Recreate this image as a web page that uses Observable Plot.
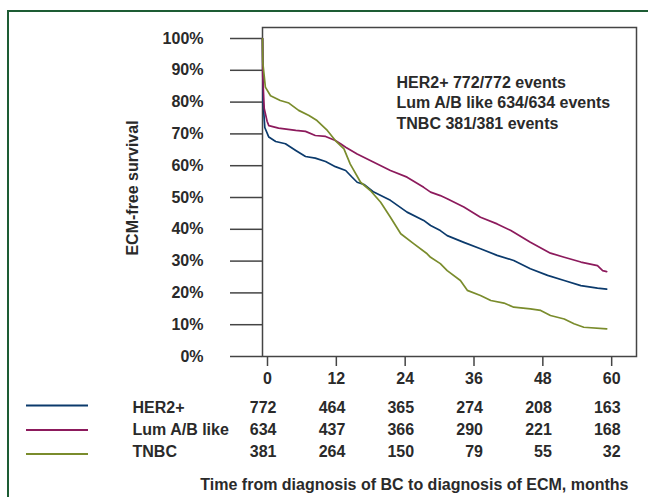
<!DOCTYPE html>
<html>
<head>
<meta charset="utf-8">
<script src="https://cdn.jsdelivr.net/npm/d3@7"></script>
<script src="https://cdn.jsdelivr.net/npm/@observablehq/plot@0.6"></script>
<style>
  html, body { margin: 0; padding: 0; background: #fff; }
  #wrap { position: relative; width: 648px; height: 497px; overflow: hidden; background: #fff; }
  #border { position: absolute; left: 7px; top: 10px; width: 800px; height: 700px; border-left: 2.5px solid #1d5c34; border-top: 2.5px solid #1d5c34; }
  #chart { position: absolute; left: 0; top: 0; }
</style>
</head>
<body>
<div id="wrap"><div id="border"></div><div id="chart"></div></div>
<script>
// ---- data ----
const groups = ["HER2+", "Lum A/B like", "TNBC"];
const colors = ["#0b3a6c", "#8c1a5c", "#7a8c2c"];

const her2Months = [0, 0.1, 0.4, 1.1, 2.3, 4.0, 5.8, 7.5, 9.2, 11.0, 12.7, 14.5, 15.5, 16.5, 17.7, 19.4, 22.3, 25.2, 28.1, 29.3, 31.0, 32.2, 35.1, 38.0, 40.9, 43.8, 46.7, 49.7, 52.6, 55.5, 58.4, 60.0];
const her2Surv   = [100, 80, 72, 69, 67.6, 66.9, 64.8, 62.9, 62.4, 61.3, 59.7, 58.5, 56.6, 54.8, 54.1, 51.7, 49.1, 45.4, 42.8, 41.2, 39.6, 38.0, 35.9, 33.9, 31.8, 30.2, 27.6, 25.5, 23.9, 22.3, 21.5, 21.2];

const lumMonths = [0, 0.05, 0.3, 0.8, 1.1, 2.8, 5.8, 7.5, 9.2, 11.0, 12.7, 13.6, 14.5, 16.5, 19.4, 22.3, 25.2, 28.1, 29.3, 31.0, 32.2, 35.1, 38.0, 40.9, 43.3, 46.7, 50.2, 52.6, 55.5, 58.4, 59.3, 60.0];
const lumSurv   = [100, 88, 78, 74, 72.6, 71.8, 71.1, 70.8, 69.5, 69.2, 67.9, 66.9, 65.8, 63.7, 61.1, 58.5, 56.4, 53.2, 51.7, 50.6, 49.6, 47.0, 43.8, 41.7, 39.6, 35.9, 32.5, 31.2, 29.7, 28.6, 27.0, 26.7];

const tnbcMonths = [0, 0.05, 0.5, 1.4, 3.1, 4.6, 6.3, 8.1, 9.5, 11.3, 12.7, 14.2, 15.3, 17.1, 18.8, 20.6, 22.3, 24.1, 26.4, 28.7, 29.3, 31.0, 32.2, 34.5, 35.7, 38.0, 39.8, 42.1, 43.8, 46.7, 48.5, 50.2, 52.6, 54.3, 56.0, 60.0];
const tnbcSurv   = [100, 92.5, 84.7, 82, 80.5, 79.7, 77.4, 75.8, 74.2, 71.1, 67.9, 65.3, 60.5, 54.8, 52.2, 48.5, 43.8, 38.6, 35.4, 32.3, 31.2, 29.2, 27.0, 23.9, 20.8, 19.2, 17.6, 16.8, 15.5, 15.0, 14.5, 12.9, 11.8, 10.3, 9.2, 8.7];

const xTicks = [0, 12, 24, 36, 48, 60];
const yTicks = [0, 0.1, 0.2, 0.3, 0.4, 0.5, 0.6, 0.7, 0.8, 0.9, 1.0];

const riskHer2 = [772, 464, 365, 274, 208, 163];
const riskLum  = [634, 437, 366, 290, 221, 168];
const riskTnbc = [381, 264, 150, 79, 55, 32];

const eventLines = ["HER2+ 772/772 events", "Lum A/B like 634/634 events", "TNBC 381/381 events"];
const yLabel = "ECM-free survival";
const xTitle = "Time from diagnosis of BC to diagnosis of ECM, months";

// ---- build tables ----
const seriesMonths = [her2Months, lumMonths, tnbcMonths];
const seriesSurv = [her2Surv, lumSurv, tnbcSurv];
const curves = groups.flatMap((g, i) => seriesMonths[i].map((m, j) => ({group: g, month: m, surv: seriesSurv[i][j] / 100})));
const riskAll = [riskHer2, riskLum, riskTnbc];
const riskRows = riskAll.map((arr, i) => arr.map((n, j) => ({group: groups[i], month: xTicks[j], n})));

const FONT = "'Liberation Sans', Arial, Helvetica, sans-serif";
const TXT = "#2a2a2a";
const FS = 16;
const rowDy = [56, 78, 100];
const swatchDy = [49.5, 74, 98];

const chart = Plot.plot({
  width: 648,
  height: 497,
  marginLeft: 262,
  marginRight: 12,
  marginTop: 27,
  marginBottom: 141,
  style: {fontFamily: FONT, fontSize: FS + "px", fontWeight: "bold", color: TXT, background: "transparent", overflow: "visible"},
  x: {domain: [0, 65.2], label: null},
  y: {domain: [0, 1.0346], label: null},
  color: {domain: groups, range: colors},
  marks: [
    Plot.frame({stroke: "#444", strokeWidth: 1.5}),
    Plot.axisY({ticks: yTicks, tickSize: 32, tickPadding: 27, tickFormat: d => Math.round(d * 100) + "%", stroke: "#444", strokeWidth: 1.5, fill: TXT, label: null}),
    Plot.axisX({ticks: xTicks, tickSize: 10, tickPadding: 6, dx: 5, tickFormat: d => String(d), stroke: "#444", strokeWidth: 1.5, fill: TXT, label: null}),
    Plot.line(curves, {x: "month", y: "surv", z: "group", stroke: "group", strokeWidth: 1.7, curve: "linear"}),
    Plot.text([eventLines.join("\n")], {frameAnchor: "top-left", dx: 134, dy: 46, textAnchor: "start", lineAnchor: "top", lineHeight: 1.27, fontSize: FS, fontWeight: "bold", fill: TXT}),
    Plot.text([yLabel], {frameAnchor: "left", rotate: -90, dx: -130, dy: -4, textAnchor: "middle", fontSize: FS, fontWeight: "bold", fill: TXT}),
    ...riskRows.map((rows, i) => Plot.text(rows, {x: "month", frameAnchor: "bottom", dy: rowDy[i], dx: 14, text: "n", textAnchor: "end", fontSize: FS, fontWeight: "bold", fill: TXT})),
    ...groups.map((g, i) => Plot.text([g], {frameAnchor: "bottom-left", dx: -130, dy: rowDy[i], textAnchor: "start", fontSize: FS, fontWeight: "bold", fill: TXT})),
    Plot.text([xTitle], {frameAnchor: "bottom-right", dx: -8, dy: 133, textAnchor: "end", fontSize: FS, fontWeight: "bold", fill: TXT})
  ]
});

// legend swatches beside the risk-table rows
const svg = d3.select(chart);
const fy = chart.scale("y").apply(0);
groups.forEach((g, i) => {
  svg.append("line")
    .attr("x1", 26).attr("x2", 88)
    .attr("y1", fy + swatchDy[i]).attr("y2", fy + swatchDy[i])
    .attr("stroke", colors[i]).attr("stroke-width", 2);
});

document.getElementById("chart").appendChild(chart);
</script>
</body>
</html>
